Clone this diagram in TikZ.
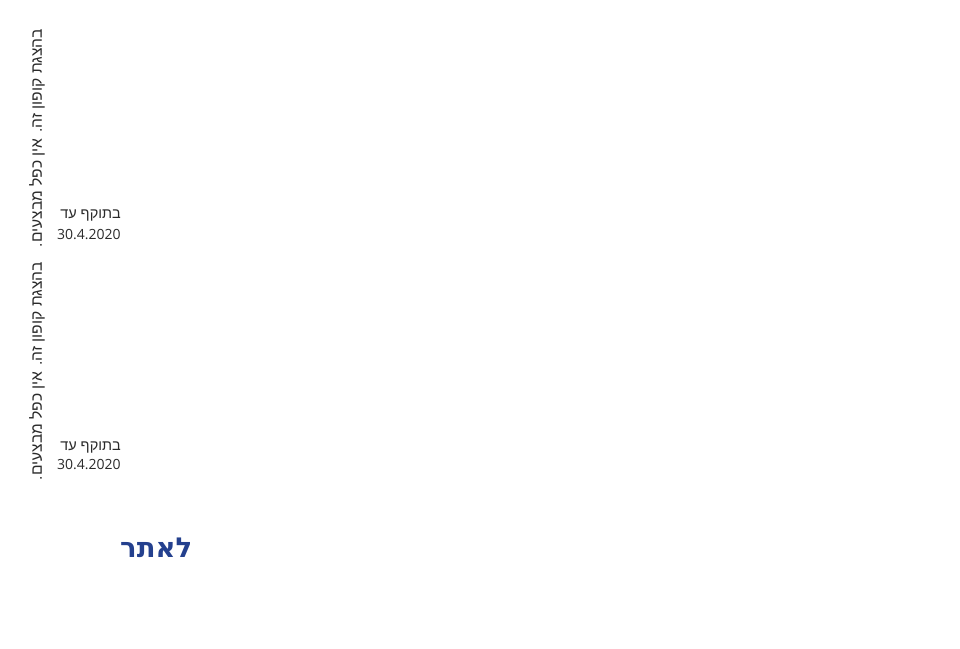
\documentclass[tikz,border=0pt]{standalone}
\usepackage{fontspec}
\TeXXeTstate=1
\newfontfamily\hebfont[Script=Hebrew]{Liberation Sans}
\newfontfamily\hebbold[Script=Hebrew]{DejaVu Sans Bold}
\newfontfamily\numfont{Open Sans}
\definecolor{linkblue}{HTML}{24408E}
\definecolor{txtgray}{HTML}{2A2A2A}
\begin{document}
\begin{tikzpicture}[x=1pt,y=-1pt,
  small/.style={font=\hebfont\fontsize{14.5}{16}\selectfont, text=txtgray, inner sep=0pt},
  vsmall/.style={font=\hebfont\fontsize{15.6}{17}\selectfont, text=txtgray, inner sep=0pt},
  num/.style={font=\numfont\fontsize{14}{16}\selectfont, text=txtgray, inner sep=0pt},
  vert/.style={vsmall, rotate=90},
  big/.style={font=\hebbold\fontsize{27.5}{32}\selectfont, text=linkblue, inner sep=0pt}]
\useasboundingbox (0,0) rectangle (960,648);
\node[vert] (v1) at (37,138) {\beginR בהצגת קופון זה. אין כפל מבצעים.\endR};
\node[vert] (v2) at (37,371) {\beginR בהצגת קופון זה. אין כפל מבצעים.\endR};
\node[small, anchor=base east] (t1) at (121,218) {\beginR בתוקף עד\endR};
\node[num, anchor=base west] (d1) at (57,239) {30.4.2020};
\node[small, anchor=base east] (t2) at (121,450) {\beginR בתוקף עד\endR};
\node[num, anchor=base west] (d2) at (57,469) {30.4.2020};
\node[big, anchor=base west] (link) at (120,557) {\beginR לאתר\endR};
\end{tikzpicture}
\end{document}
